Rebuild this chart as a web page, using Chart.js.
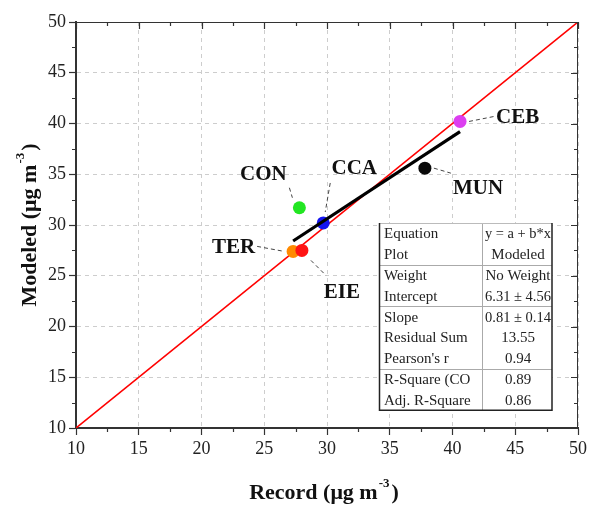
<!DOCTYPE html>
<html>
<head>
<meta charset="utf-8">
<script src="https://cdn.jsdelivr.net/npm/chart.js@4.4.1/dist/chart.umd.min.js"></script>
<style>
  html, body { margin: 0; padding: 0; background: #fff; }
  #wrap { width: 590px; height: 510px; position: relative; }
</style>
</head>
<body>
<div id="wrap"><canvas id="scatterChart"></canvas></div>
<script>
// sites with their record vs modeled concentrations (ug m-3)
const sites      = ['CEB', 'MUN', 'CON', 'CCA', 'TER', 'EIE'];
const recorded   = [40.6, 37.8, 27.8, 29.7, 27.3, 28.0];
const modeled    = [40.2, 35.6, 31.7, 30.2, 27.4, 27.5];
const siteColors = ['#dc3ef0', '#0a0a0a', '#22e622', '#1414f0', '#ff8a00', '#ff1414'];

const axisMin = 10;
const axisMax = 50;
const axisStep = 5;

// linear fit results
const fitIntercept = 6.31;
const fitSlope     = 0.81;
const statNames  = ['Equation', 'Plot', 'Weight', 'Intercept', 'Slope', 'Residual Sum', "Pearson's r", 'R-Square (CO', 'Adj. R-Square'];
const statValues = ['y = a + b*x', 'Modeled', 'No Weight', '6.31 ± 4.56', '0.81 ± 0.14', '13.55', '0.94', '0.89', '0.86'];

// where each site name sits relative to its marker (px): text anchor + leader line
const labelPlacement = {
    CEB: { tx: 36,  ty: -4,  align: 'left',   line: [9, 0, 34, -5] },
    MUN: { tx: 28,  ty: 20,  align: 'left',   line: [9, 0, 26, 5] },
    CON: { tx: -36, ty: -33, align: 'center', line: [-10, -20, -7, -10] },
    CCA: { tx: 31,  ty: -54, align: 'center', line: [7, -40, 2, -11] },
    TER: { tx: -38, ty: -4,  align: 'right',  line: [-36, -5, -9, 0] },
    EIE: { tx: 40,  ty: 42,  align: 'center', line: [9, 10, 24, 25] }
};

const SERIF = '"Liberation Serif", "DejaVu Serif", serif';
const INK = '#222';

const points = sites.map((s, i) => ({ x: recorded[i], y: modeled[i] }));
const xFitMin = Math.min(...recorded);
const xFitMax = Math.max(...recorded);
const fitLine = [
    { x: xFitMin, y: fitIntercept + fitSlope * xFitMin },
    { x: xFitMax, y: fitIntercept + fitSlope * xFitMax }
];
const identityLine = [{ x: axisMin, y: axisMin }, { x: axisMax, y: axisMax }];

// title with a superscript unit exponent
function drawUnitTitle(ctx, before, sup, after, cx, cy) {
    const big = 'bold 22px ' + SERIF;
    const small = 'bold 13px ' + SERIF;
    ctx.font = big;
    const w1 = ctx.measureText(before).width;
    const w3 = ctx.measureText(after).width;
    ctx.font = small;
    const w2 = ctx.measureText(sup).width;
    let x = cx - (w1 + w2 + w3 + 3) / 2;
    ctx.textAlign = 'left';
    ctx.textBaseline = 'middle';
    ctx.fillStyle = '#111';
    ctx.font = big;
    ctx.fillText(before, x, cy);
    x += w1;
    ctx.font = small;
    ctx.fillText(sup, x + 1, cy - 9);
    x += w2 + 3;
    ctx.font = big;
    ctx.fillText(after, x, cy);
}

const decorPlugin = {
    id: 'decor',
    afterDraw(chart) {
        const { ctx, chartArea: a, scales: { x, y } } = chart;
        ctx.save();

        // top and right frame
        ctx.strokeStyle = '#333';
        ctx.lineWidth = 1;
        ctx.beginPath();
        ctx.moveTo(a.left, a.top + 0.5);
        ctx.lineTo(a.right, a.top + 0.5);
        ctx.moveTo(a.right - 0.5, a.top);
        ctx.lineTo(a.right - 0.5, a.bottom);
        ctx.stroke();

        // minor ticks outside bottom/left, all ticks mirrored inside top/right
        ctx.lineWidth = 1.2;
        ctx.strokeStyle = '#333';
        ctx.beginPath();
        for (let v = axisMin; v <= axisMax + 0.01; v += axisStep / 2) {
            const major = Math.abs(v / axisStep - Math.round(v / axisStep)) < 0.01;
            const len = major ? 7 : 4;
            const px = Math.round(x.getPixelForValue(v)) + 0.5;
            const py = Math.round(y.getPixelForValue(v)) + 0.5;
            if (!major) {
                ctx.moveTo(px, a.bottom); ctx.lineTo(px, a.bottom + len);
                ctx.moveTo(a.left, py); ctx.lineTo(a.left - len, py);
            }
            ctx.moveTo(px, a.top); ctx.lineTo(px, a.top + len);
            ctx.moveTo(a.right, py); ctx.lineTo(a.right - len, py);
        }
        ctx.stroke();

        // site names with dashed leaders
        sites.forEach((name, i) => {
            const p = labelPlacement[name];
            const px = x.getPixelForValue(recorded[i]);
            const py = y.getPixelForValue(modeled[i]);
            ctx.setLineDash([4, 3]);
            ctx.lineWidth = 1;
            ctx.strokeStyle = '#444';
            ctx.beginPath();
            ctx.moveTo(px + p.line[0], py + p.line[1]);
            ctx.lineTo(px + p.line[2], py + p.line[3]);
            ctx.stroke();
            ctx.setLineDash([]);
            ctx.font = 'bold 21px ' + SERIF;
            ctx.fillStyle = '#111';
            ctx.textAlign = p.align;
            ctx.textBaseline = 'middle';
            ctx.fillText(name, px + p.tx, py + p.ty);
        });

        // fit statistics table
        const tx0 = 379, tx1 = 552, tMid = 482, ty0 = 223;
        const rowH = 20.8;
        const ty1 = ty0 + rowH * statNames.length;
        ctx.fillStyle = '#fff';
        ctx.fillRect(tx0, ty0, tx1 - tx0, ty1 - ty0);
        ctx.strokeStyle = '#aaa';
        ctx.lineWidth = 1;
        ctx.beginPath();
        [2, 4, 7].forEach(r => {
            const ly = Math.round(ty0 + r * rowH) + 0.5;
            ctx.moveTo(tx0, ly); ctx.lineTo(tx1, ly);
        });
        ctx.moveTo(tMid + 0.5, ty0); ctx.lineTo(tMid + 0.5, ty1);
        ctx.stroke();
        ctx.strokeStyle = '#bbb';
        ctx.beginPath();
        ctx.moveTo(tx0, ty0 + 0.5); ctx.lineTo(tx1, ty0 + 0.5);
        ctx.stroke();
        ctx.strokeStyle = '#222';
        ctx.lineWidth = 1.5;
        ctx.beginPath();
        ctx.moveTo(tx0 + 0.5, ty0); ctx.lineTo(tx0 + 0.5, ty1);
        ctx.lineTo(tx1, ty1); ctx.lineTo(tx1, ty0);
        ctx.stroke();

        ctx.font = '15px ' + SERIF;
        ctx.fillStyle = INK;
        ctx.textBaseline = 'middle';
        statNames.forEach((label, r) => {
            const cy = ty0 + rowH * (r + 0.5) + 1;
            ctx.textAlign = 'left';
            ctx.fillText(label, tx0 + 5, cy, tMid - tx0 - 6);
            ctx.textAlign = 'center';
            ctx.fillText(statValues[r], (tMid + tx1) / 2 + 1, cy, tx1 - tMid - 4);
        });

        // axis titles
        drawUnitTitle(ctx, 'Record (\u03bcg m', '-3', ')', (a.left + a.right) / 2 - 3, 493);
        ctx.save();
        ctx.translate(30, (a.top + a.bottom) / 2);
        ctx.rotate(-Math.PI / 2);
        drawUnitTitle(ctx, 'Modeled (\u03bcg m', '-3', ')', 0, 0);
        ctx.restore();

        ctx.restore();
    }
};

function axisOptions(fixSize) {
    return {
        type: 'linear',
        min: axisMin,
        max: axisMax,
        ticks: {
            stepSize: axisStep,
            color: INK,
            font: { family: SERIF, size: 18 },
            padding: 3
        },
        grid: {
            color: '#cdcdcd',
            lineWidth: 1,
            tickColor: '#333',
            tickLength: 7,
            tickWidth: 1.2
        },
        border: { color: '#333', width: 2, dash: [4, 4] },
        afterFit: fixSize
    };
}

new Chart(document.getElementById('scatterChart'), {
    type: 'scatter',
    data: {
        datasets: [
            {
                label: 'Linear fit',
                type: 'line',
                data: fitLine,
                borderColor: '#000',
                borderWidth: 3.2,
                pointRadius: 0,
                fill: false
            },
            {
                label: 'Sites',
                data: points,
                backgroundColor: siteColors,
                borderColor: siteColors,
                pointRadius: 6.5,
                pointBorderWidth: 0
            },
            {
                label: '1:1',
                type: 'line',
                data: identityLine,
                borderColor: '#ff0000',
                borderWidth: 1.6,
                pointRadius: 0,
                fill: false
            }
        ]
    },
    options: {
        responsive: true,
        maintainAspectRatio: false,
        animation: false,
        layout: { padding: { left: 0, right: 10, top: 22, bottom: 0 } },
        plugins: {
            legend: { display: false },
            tooltip: { enabled: false }
        },
        scales: {
            x: axisOptions(s => { s.height = 82; }),
            y: axisOptions(s => { s.width = 76; })
        }
    },
    plugins: [decorPlugin]
});
</script>
</body>
</html>
